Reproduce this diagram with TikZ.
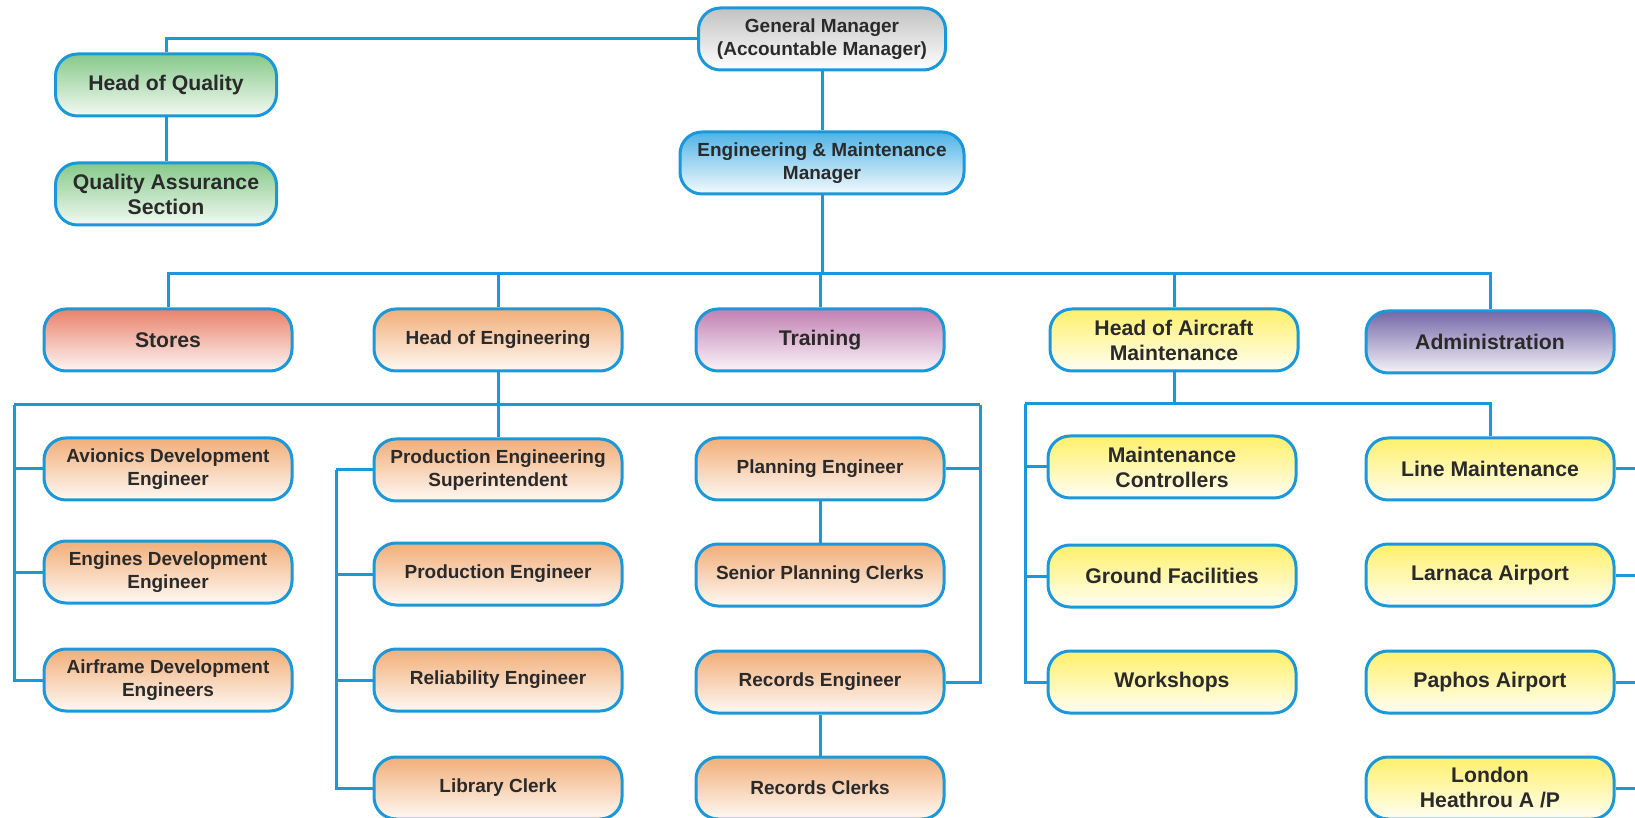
\documentclass[tikz,border=0pt]{standalone}
\usepackage{fontspec}
\setmainfont{Liberation Sans}
\usetikzlibrary{calc}
\definecolor{linec}{HTML}{1B98DA}
\definecolor{txt}{HTML}{2A2A2A}
\definecolor{gmgrey}{HTML}{C2C2C2}
\definecolor{qgreen}{HTML}{86C98A}
\definecolor{emblue}{HTML}{4FB3E6}
\definecolor{storered}{HTML}{E9826B}
\definecolor{engorange}{HTML}{F2AE78}
\definecolor{trainmauve}{HTML}{C27FB2}
\definecolor{mntyellow}{HTML}{FFF06A}
\definecolor{admpurple}{HTML}{7467A8}
\tikzset{
  box/.style={draw=linec, line width=1.5pt, rounded corners=11pt,
    minimum width=124pt, minimum height=31pt, inner sep=1pt,
    align=center, text=txt},
  small/.style={font=\bfseries\fontsize{9.5}{11.5}\selectfont},
  large/.style={font=\bfseries\fontsize{10.6}{12.5}\selectfont},
  greybox/.style={box, small, top color=gmgrey, bottom color=white},
  greenbox/.style={box, large, minimum width=110.5pt, top color=qgreen, bottom color=qgreen!10!white},
  bluebox/.style={box, small, minimum width=142pt, top color=emblue, bottom color=emblue!6!white},
  redbox/.style={box, large, top color=storered, bottom color=storered!8!white},
  orangebox/.style={box, small, top color=engorange, bottom color=engorange!8!white},
  mauvebox/.style={box, large, top color=trainmauve, bottom color=trainmauve!8!white},
  yellowbox/.style={box, large, top color=mntyellow, bottom color=mntyellow!8!white},
  purplebox/.style={box, large, top color=admpurple, bottom color=admpurple!8!white},
  link/.style={draw=linec, line width=1.5pt}
}
\begin{document}
\begin{tikzpicture}[x=0.5pt,y=-0.5pt]
\useasboundingbox (0,0) rectangle (1635,818);
\clip (0,0) rectangle (1635,818);
\node[greybox,minimum width=123.5pt] (gm) at (822,39) {General Manager\\(Accountable Manager)};
\node[greenbox] (hoq) at (166,85) {Head of Quality};
\node[greenbox] (qa) at (166,194) {Quality Assurance\\Section};
\node[bluebox] (em) at (822,163) {Engineering \& Maintenance\\Manager};
\node[redbox] (stores) at (168,340) {Stores};
\node[orangebox] (hoe) at (498,340) {Head of Engineering};
\node[mauvebox] (train) at (820,340) {Training};
\node[yellowbox] (hoam) at (1174,340) {Head of Aircraft\\Maintenance};
\node[purplebox] (admin) at (1490,342) {Administration};
\foreach \n/\y/\t in {av/469/{Avionics Development\\Engineer},
                      eng/572/{Engines Development\\Engineer},
                      air/680/{Airframe Development\\Engineers}}
  \node[orangebox] (\n) at (168,\y) {\t};
\foreach \n/\y/\t in {pes/470/{Production Engineering\\Superintendent},
                      pe/574/{Production Engineer},
                      rel/680/{Reliability Engineer},
                      lib/788/{Library Clerk}}
  \node[orangebox] (\n) at (498,\y) {\t};
\foreach \n/\y/\t in {plan/469/{Planning Engineer},
                      spc/575/{Senior Planning Clerks},
                      rec/682/{Records Engineer},
                      recc/788/{Records Clerks}}
  \node[orangebox] (\n) at (820,\y) {\t};
\foreach \n/\y/\t in {mc/467/{Maintenance\\Controllers},
                      gf/576/{Ground Facilities},
                      ws/682/{Workshops}}
  \node[yellowbox] (\n) at (1172,\y) {\t};
\foreach \n/\y/\t in {lm/469/{Line Maintenance},
                      lar/575/{Larnaca Airport},
                      pap/682/{Paphos Airport},
                      lon/788/{London\\Heathrou A /P}}
  \node[yellowbox] (\n) at (1490,\y) {\t};
% top of the tree
\draw[link] (gm.west) -| (hoq.north);
\draw[link] (hoq) -- (qa);
\draw[link] (gm) -- (em);
\coordinate (embus) at (822,274);
\draw[link] (em) -- (embus);
\foreach \n in {stores,hoe,train,hoam,admin}
  \draw[link] (embus) -| (\n.north);
% engineering
\coordinate (engL) at (14,405);
\coordinate (engR) at (980,405);
\draw[link] (engL) -- (engR);
\draw[link] (hoe) -- (pes);
\foreach \n in {av,eng,air}
  \draw[link] (engL) |- (\n.west);
\foreach \n in {plan,rec}
  \draw[link] (engR) |- (\n.east);
\coordinate (prodL) at (336,470);
\foreach \n in {pes,pe,rel,lib}
  \draw[link] (prodL) |- (\n.west);
\draw[link] (plan) -- (spc);
\draw[link] (rec) -- (recc);
% aircraft maintenance
\coordinate (mntL) at (1025,404);
\draw[link] (hoam.south) -- (hoam.south |- mntL);
\draw[link] (mntL) -| (lm.north);
\foreach \n in {mc,gf,ws}
  \draw[link] (mntL) |- (\n.west);
\coordinate (offR) at (1660,0);
\foreach \n in {lm,lar,pap,lon}
  \draw[link] (\n.east) -- (\n.east -| offR);
\end{tikzpicture}
\end{document}
